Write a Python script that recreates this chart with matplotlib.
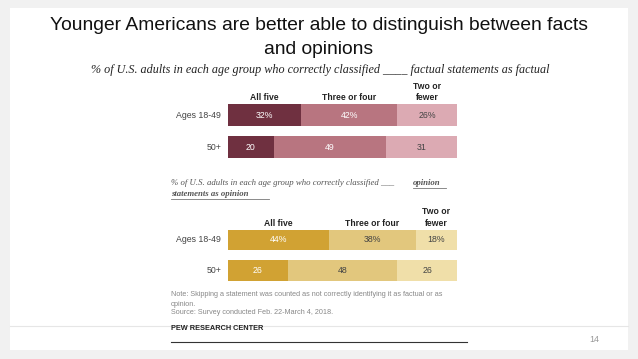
import matplotlib
matplotlib.use("Agg")
import matplotlib.pyplot as plt
from matplotlib.patches import Rectangle

W, H = 638, 359
groups = ["Ages 18-49", "50+"]
headers = ["All five", "Three or four", "Two or\nfewer"]
fact_vals = [[32, 42, 26], [20, 49, 31]]
opin_vals = [[44, 38, 18], [26, 48, 26]]
fact_colors = ["#6f3040", "#b87580", "#dcaab3"]
opin_colors = ["#d1a233", "#e2c77d", "#f0dfa9"]
fact_txt = ["white", "white", "#444444"]
opin_txt = ["white", "#444444", "#444444"]

fig = plt.figure(figsize=(W / 100, H / 100), dpi=100)
fig.patch.set_facecolor("#f1f1f1")

def fx(x):
    return x / W

def fy(y):
    return 1 - y / H

fig.patches.append(Rectangle((fx(10), fy(350)), fx(628) - fx(10), fy(8) - fy(350),
                             transform=fig.transFigure, facecolor="white", edgecolor="none", zorder=-5))
fig.add_artist(plt.Line2D([fx(10), fx(628)], [fy(326), fy(326)], transform=fig.transFigure,
                          color="#e6e6e6", lw=0.8, zorder=-4))

fig.text(fx(319), fy(26), "Younger Americans are better able to distinguish between facts",
         ha="center", va="center", fontsize=13.9, family="Liberation Sans", color="#111111")
fig.text(fx(319), fy(50), "and opinions", ha="center", va="center", fontsize=13.9,
         family="Liberation Sans", color="#111111")
fig.text(fx(320), fy(70), "% of U.S. adults in each age group who correctly classified ____ factual statements as factual",
         ha="center", va="center", fontsize=8.7, family="Liberation Serif", style="italic", color="#222222")


def draw(top, bottom, vals, colors, txtcols, pct_first):
    ax = fig.add_axes([fx(228), fy(bottom), fx(457) - fx(228), fy(top) - fy(bottom)])
    ax.set_xlim(0, 100)
    ax.set_ylim(1.5, -0.5)
    ax.axis("off")
    for i, row in enumerate(vals):
        left = 0
        for j, v in enumerate(row):
            ax.barh(i, v, left=left, height=0.66, color=colors[j], edgecolor="none")
            lab = f"{v}%" if (i == 0 and pct_first) else f"{v}"
            ax.text(left + v / 2, i, lab, ha="center", va="center", fontsize=6.3,
                    family="Liberation Sans", color=txtcols[j])
            if i == 0:
                ax.text(left + v / 2, -0.4, headers[j], ha="center", va="bottom", fontsize=6.2,
                        family="Liberation Sans", weight="bold", color="#222222", linespacing=1.35)
            left += v
    for i, g in enumerate(groups):
        ax.text(-3, i, g, ha="right", va="center", fontsize=6.3, family="Liberation Sans",
                color="#444444")
    return ax

draw(99, 163, fact_vals, fact_colors, fact_txt, True)
draw(224.75, 285.75, opin_vals, opin_colors, opin_txt, True)

fig.text(fx(171), fy(183), "% of U.S. adults in each age group who correctly classified ___ ",
         ha="left", va="center", fontsize=6.3, family="Liberation Serif", style="italic", color="#555555")
fig.text(fx(413), fy(183), "opinion", ha="left", va="center", fontsize=6.3, family="Liberation Serif",
         style="italic", weight="bold", color="#555555")
fig.text(fx(171), fy(194), "statements as opinion", ha="left", va="center", fontsize=6.3,
         family="Liberation Serif", style="italic", weight="bold", color="#555555")
fig.add_artist(plt.Line2D([fx(413), fx(446)], [fy(187.5), fy(187.5)], transform=fig.transFigure, color="#777777", lw=0.6))
fig.add_artist(plt.Line2D([fx(171), fx(269)], [fy(198.5), fy(198.5)], transform=fig.transFigure, color="#777777", lw=0.6))

fig.text(fx(171), fy(295), "Note: Skipping a statement was counted as not correctly identifying it as factual or as",
         ha="left", va="center", fontsize=5.2, family="Liberation Sans", color="#888888")
fig.text(fx(171), fy(304), "opinion.", ha="left", va="center", fontsize=5.2, family="Liberation Sans", color="#888888")
fig.text(fx(171), fy(313), "Source: Survey conducted Feb. 22-March 4, 2018.", ha="left", va="center", fontsize=5.2,
         family="Liberation Sans", color="#888888")
fig.text(fx(171), fy(328), "PEW RESEARCH CENTER", ha="left", va="center", fontsize=5.3, family="Liberation Sans",
         weight="bold", color="#222222")
fig.add_artist(plt.Line2D([fx(171), fx(467)], [fy(342), fy(342)], transform=fig.transFigure, color="#333333", lw=0.8))
fig.text(fx(594), fy(339), "14", ha="center", va="center", fontsize=6.5, family="Liberation Sans", color="#999999")

fig.savefig("out.png", dpi=100, facecolor=fig.get_facecolor())
